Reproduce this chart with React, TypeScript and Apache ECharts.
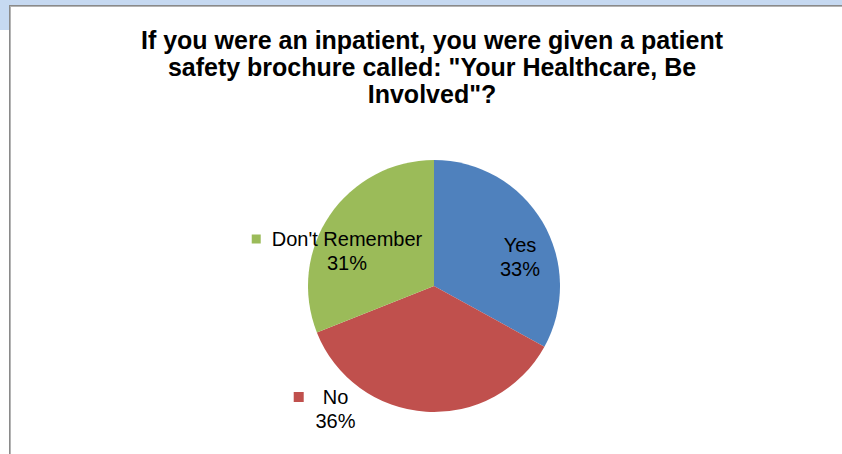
import React, { useEffect, useRef } from "react";
import * as echarts from "echarts";

const TITLE_LINES = [
  "If you were an inpatient, you were given a patient",
  'safety brochure called: "Your Healthcare, Be',
  'Involved"?',
];
const CATEGORIES = ["Yes", "No", "Don't Remember"];
const VALUES = [33, 36, 31];
const COLORS = ["#4f81bd", "#c0504d", "#9bbb59"];
const SQUARE_KEYS = ["", "sqNo", "sqDR"];

// label anchor positions (x, y) for each category
const LABEL_POS: [number, number][] = [
  [520, 257],
  [321, 409],
  [337, 251],
];

const FONT = '"Liberation Sans", Arial, sans-serif';
const LFS = 20;

export default function App() {
  const ref = useRef<HTMLDivElement>(null);
  useEffect(() => {
    if (!ref.current) return;
    const chart = echarts.init(ref.current, null, { renderer: "svg" });
    const txt = { fontFamily: FONT, fontSize: LFS, lineHeight: 24, color: "#000" };
    chart.setOption({
      animation: false,
      backgroundColor: "#ffffff",
      title: {
        text: TITLE_LINES.join("\n"),
        left: 432,
        top: 26,
        padding: 0,
        textAlign: "center",
        textStyle: {
          fontFamily: FONT,
          fontWeight: "bold",
          fontSize: 25,
          lineHeight: 27,
          color: "#000000",
        },
      },
      graphic: [
        { type: "rect", shape: { x: 0, y: 0, width: 842, height: 5 }, style: { fill: "#c6d9f1" }, silent: true },
        { type: "rect", shape: { x: 0, y: 0, width: 9, height: 30 }, style: { fill: "#c6d9f1" }, silent: true },
        { type: "rect", shape: { x: 9, y: 5, width: 833, height: 1 }, style: { fill: "#8a8a8a" }, silent: true },
        { type: "rect", shape: { x: 9, y: 6, width: 833, height: 1 }, style: { fill: "#b4b4b4" }, silent: true },
        { type: "rect", shape: { x: 9, y: 5, width: 1, height: 449 }, style: { fill: "#8a8a8a" }, silent: true },
        { type: "rect", shape: { x: 10, y: 6, width: 1, height: 448 }, style: { fill: "#b4b4b4" }, silent: true },
      ],
      series: [
        {
          type: "pie",
          center: [434, 286],
          radius: 126,
          startAngle: 90,
          clockwise: true,
          silent: true,
          emphasis: { disabled: true },
          itemStyle: { borderWidth: 0 },
          data: CATEGORIES.map((name, i) => ({
            name,
            value: VALUES[i],
            itemStyle: { color: COLORS[i] },
          })),
          label: {
            show: true,
            position: "inside",
            ...txt,
            formatter: (p: any) => {
              const key = SQUARE_KEYS[p.dataIndex];
              if (!key) return `{name|${p.name}}\n{val|${p.value}%}`;
              const suffix = key === "sqNo" ? "No" : "DR";
              return `{${key}|}{name${suffix}|${p.name}}\n{val${suffix}|${p.value}%}`;
            },
            rich: {
              name: { ...txt },
              val: { ...txt },
              sqNo: { width: 10, height: 10, backgroundColor: COLORS[1] },
              sqDR: { width: 9, height: 9, backgroundColor: COLORS[2] },
              nameNo: { ...txt, padding: [0, 0, 0, 19] },
              nameDR: { ...txt, padding: [0, 0, 0, 11] },
              valNo: { ...txt, padding: [0, 0, 0, 29] },
              valDR: { ...txt, padding: [0, 0, 0, 20] },
            },
          },
          labelLine: { show: false },
          labelLayout: (params: any) => {
            const pos = LABEL_POS[params.dataIndex];
            return { x: pos[0], y: pos[1], align: "center", verticalAlign: "middle" };
          },
        },
      ],
    });
    return () => chart.dispose();
  }, []);
  return (
    <div
      ref={ref}
      style={{ position: "absolute", left: 0, top: 0, width: 842, height: 454 }}
    />
  );
}
